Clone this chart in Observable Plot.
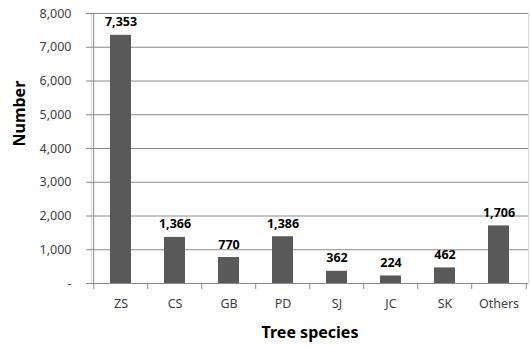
<!DOCTYPE html>
<html>
<head>
<meta charset="utf-8">
<script src="https://cdn.jsdelivr.net/npm/d3@7"></script>
<script src="https://cdn.jsdelivr.net/npm/@observablehq/plot@0.6"></script>
<style>
  html, body { margin: 0; padding: 0; background: #fff; }
  svg { display: block; }
</style>
</head>
<body>
<div id="chart"></div>
<script>
// Tree species counts
const species = ["ZS", "CS", "GB", "PD", "SJ", "JC", "SK", "Others"];
const counts = [7353, 1366, 770, 1386, 362, 224, 462, 1706];
const yTicks = [0, 1000, 2000, 3000, 4000, 5000, 6000, 7000, 8000];

const data = species.map((s, i) => ({species: s, count: counts[i]}));

const W = 530, H = 347;
const margins = {marginLeft: 91, marginRight: 2, marginTop: 13, marginBottom: 64};
const xOptions = {
  domain: species,
  paddingInner: 0.61,
  paddingOuter: 0.305,
  range: [margins.marginLeft, W - margins.marginRight]
};
const step = Plot.scale({x: {type: "band", ...xOptions}}).step;

const fmt = d3.format(",");
const font = "'Noto Sans', 'DejaVu Sans', sans-serif";

const chart = Plot.plot({
  width: W,
  height: H,
  ...margins,
  style: {fontFamily: font, fontSize: "12px", color: "#404040", background: "#fff"},
  x: {type: "band", domain: species, paddingInner: 0.61, paddingOuter: 0.305},
  y: {domain: [0, 8000]},
  marks: [
    Plot.frame({stroke: "#d9d9d9"}),
    Plot.gridY(yTicks, {stroke: "#8a8a8a", strokeOpacity: 1}),
    Plot.barY(data, {x: "species", y: "count", fill: "#595959"}),
    Plot.text(data, {
      x: "species", y: "count", text: d => fmt(d.count),
      dy: -13, fontWeight: "bold", fontSize: 12.5, fill: "#000"
    }),
    // axis lines
    Plot.ruleY([0], {stroke: "#8a8a8a"}),
    Plot.ruleX([species[0]], {dx: -step / 2, stroke: "#8a8a8a"}),
    // category boundary ticks below the axis
    Plot.ruleX(species, {x: d => d, dx: -step / 2, y1: 0, y2: 0, insetBottom: -6, stroke: "#8a8a8a"}),
    Plot.ruleX([species[species.length - 1]], {x: d => d, dx: step / 2, y1: 0, y2: 0, insetBottom: -6, stroke: "#8a8a8a"}),
    Plot.axisY(yTicks, {
      tickSize: 5, tickPadding: 15, stroke: "#8a8a8a", fill: "#404040", fontSize: 12.5,
      tickFormat: d => d === 0 ? "-" : fmt(d), label: null
    }),
    Plot.axisX({tickSize: 0, tickPadding: 16, fill: "#404040", fontSize: 12.5, label: null}),
    Plot.text(["Number"], {
      frameAnchor: "left", rotate: -90, dx: -72, dy: -2,
      fontWeight: "bold", fontSize: 16, fill: "#000"
    }),
    Plot.text(["Tree species"], {
      frameAnchor: "bottom", dy: 54,
      fontWeight: "bold", fontSize: 16, fill: "#000"
    })
  ]
});

document.getElementById("chart").appendChild(chart);
</script>
</body>
</html>
